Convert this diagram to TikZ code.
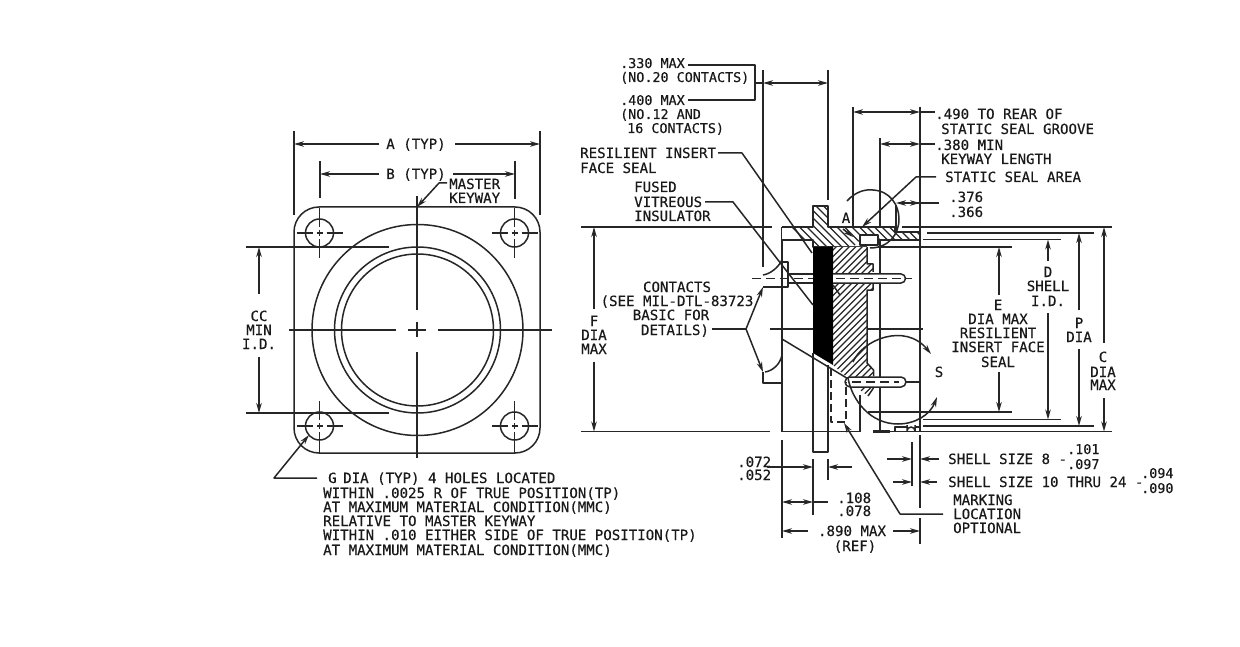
\documentclass[tikz,border=0pt]{standalone}
\usepackage{fontspec}
\setmainfont[FakeBold=0.35]{DejaVu Sans Mono}
\usetikzlibrary{arrows.meta}
\tikzset{
 ln/.style={line width=1.5pt,draw=black!85},
 thin ln/.style={line width=1.3pt,draw=black!85},
 arr/.style={ln,-{Stealth[length=10pt,width=5.5pt]}},
 cdash/.style={thin ln,dash pattern=on 9pt off 5pt},
 lbl/.style={font=\fontsize{14.1}{14}\selectfont,text=black!90,inner sep=0pt,text height=10pt,text depth=0pt,anchor=west},
 lblsm/.style={lbl,font=\fontsize{13.4}{14}\selectfont},
 lblc/.style={lbl,anchor=center},
 hat/.style={line width=1.2pt,draw=black!85}
}
\begin{document}
\begin{tikzpicture}[x=1pt,y=-1pt,line join=round]
\useasboundingbox (0,0) rectangle (1240,647);
\fill[white] (0,0) rectangle (1240,647);
% ---------- left view
\draw[ln,rounded corners=25pt] (294,207) rectangle (540,453);
\foreach \cx/\cy in {319.5/233,514.5/233,319.5/426,514.5/426}{
  \draw[ln] (\cx,\cy) circle[radius=14];
  \draw[thin ln] (\cx-23,\cy)--(\cx-7,\cy) (\cx-3,\cy)--(\cx+3,\cy) (\cx+7,\cy)--(\cx+23,\cy);
}
\draw[ln] (417.5,330) circle[radius=105.5] (417.5,330) circle[radius=83] (417.5,330) circle[radius=76];
\draw[thin ln] (319.5,208)--(319.5,227) (319.5,230)--(319.5,236) (319.5,239)--(319.5,258);
\draw[thin ln] (514.5,208)--(514.5,227) (514.5,230)--(514.5,236) (514.5,239)--(514.5,258);
\draw[thin ln] (319.5,401)--(319.5,420) (319.5,423)--(319.5,429) (319.5,432)--(319.5,453);
\draw[thin ln] (514.5,401)--(514.5,420) (514.5,423)--(514.5,429) (514.5,432)--(514.5,453);
\draw[ln] (417,196)--(417,310) (417,322)--(417,337) (417,352)--(417,458);
\draw[ln] (289,330)--(396,330) (408,330)--(426,330) (438,330)--(552,330);
% dims left view
\draw[ln] (294,131)--(294,215) (540,131)--(540,215) (320,161)--(320,198) (515,161)--(515,199);
\draw[arr] (379,144)--(294,144);
\draw[arr] (455,144)--(540,144);
\draw[arr] (379,174)--(320,174);
\draw[arr] (453,174)--(515,174);
\node[lblc] (tA) at (416,144) {A (TYP)};
\node[lblc] (tB) at (416,174) {B (TYP)};
\node[lbl] (tMK1) at (449,184) {MASTER};
\node[lbl] (tMK2) at (449,198) {KEYWAY};
\draw[arr] (447,183)--(439,183)--(417,207);
\draw[ln] (246,247)--(389,247) (246,413)--(389,413);
\draw[arr] (259,294)--(259,247);
\draw[arr] (259,357)--(259,413);
\node[lblc] (tCC) at (259,316) {CC};
\node[lblc] (tMIN) at (259,330) {MIN};
\node[lblc] (tID) at (259,344) {I.D.};
\draw[arr] (317,478)--(274,478)--(309,435);
\node[lbl] (g1) at (328,478) {G\hspace{-2pt} DIA (TYP) 4 HOLES LOCATED};
\node[lbl] (g2) at (323,493) {WITHIN .0025 R OF TRUE POSITION(TP)};
\node[lbl] (g3) at (323,507) {AT MAXIMUM MATERIAL CONDITION(MMC)};
\node[lbl] (g4) at (323,521) {RELATIVE TO MASTER KEYWAY};
\node[lbl] (g5) at (323,535) {WITHIN .010 EITHER SIDE OF TRUE POSITION(TP)};
\node[lbl] (g6) at (323,550) {AT MAXIMUM MATERIAL CONDITION(MMC)};
% ---------- right view : long lines
\draw[ln] (581,227)--(772,227) (581,431.5)--(770,431.5);
\draw[ln] (781,431.5)--(860,431.5) (873,431.5)--(1112,431.5);
\draw[ln] (902,227)--(1112,227) (927,233)--(1094,233) (923,239.5)--(1061,239.5) (878,247)--(1012,247);
\draw[ln] (868,412)--(1012,412) (923,419.5)--(1061,419.5) (923,426)--(1094,426);
\draw[ln] (763,70)--(763,267) (828,70)--(828,200);
\draw[ln] (853,107)--(853,240) (880,138)--(880,431.5) (920,107)--(920,431.5) (896,205)--(896,232);
\draw[ln] (782,227)--(782,431.5) (782,240)--(813,240) (860,395)--(860,431.5);
\draw[thin ln] (770,329)--(813,329) (867,329)--(923,329);
% hatched regions
\begin{scope}
\clip (782,227)--(813,227)--(813,206)--(828,206)--(828,227)--(895,227)--(895,232)--(920,232)--(920,240)--(878,240)--(878,235)--(860,235)--(860,240)--(853,247)--(813,247)--(813,240)--(782,240)--cycle;
\fill[white] (770,200) rectangle (930,250);
\foreach \k in {0,1,...,30}{ \draw[hat] (760+\k*7.5,195)--(820+\k*7.5,255); }
\end{scope}
\draw[ln] (782,227)--(813,227)--(813,206)--(828,206)--(828,227)--(895,227)--(895,232)--(920,232)--(920,240)--(878,240);
\draw[ln] (782,240)--(813,240)--(813,247)--(867,247);
\draw[ln] (860,235)--(878,235)--(878,245)--(860,245)--cycle;
\begin{scope}
\clip (833,247)--(867,247)--(867,264)--(873,264)--(873,290)--(867,290)--(867,363)--(873.5,370)--(873.5,388)--(868,396)--(860,390)--(850,380)--(833,365)--cycle;
\fill[white] (830,245) rectangle (880,400);
\foreach \c in {1070,1076.5,...,1270}{ \draw[hat] (\c-400,400)--(\c-240,240); }
\end{scope}
\draw[ln] (867,247)--(867,264)--(873,264)--(873,272) (873,284)--(873,290)--(867,290)--(867,363)--(873.5,370)--(873.5,376) (873.5,388)--(868,396);
\fill[black] (813,247)--(833,247)--(833,365)--(813,353)--cycle;
\draw[ln] (782,339)--(850,380);
\draw[ln] (813,353)--(813,452)--(828,452)--(828,365);
% contacts
\draw[ln] (788,274)--(813,274) (788,283)--(813,283);
\draw[ln,fill=white] (833,274)--(901,274) arc[start angle=-90,end angle=90,radius=4.5] --(833,283);
\draw[white,line width=4pt] (836,278.5)--(899,278.5);
\draw[cdash] (752,278.5)--(813,278.5);
\draw[cdash] (836,278.5)--(912,278.5);
\draw[ln] (763,287)--(788,287)--(788,262)--(782,262);
\draw[ln,fill=white] (850,377)--(901,377) arc[start angle=-90,end angle=90,radius=5] --(850,387) arc[start angle=90,end angle=270,radius=5];
\draw[cdash] (852,382)--(899,382);
\draw[ln] (906,382)--(920,382);
\draw[ln] (763,372)--(763,383)--(782,383);
\draw[ln] (763,275) .. controls (770,274) and (778,268) .. (782,260);
\draw[ln] (765,372) .. controls (772,371) and (780,365) .. (782,355);
\draw[arr] (746,329)--(763,287);
\draw[arr] (746,329)--(763,372);
\draw[ln] (712,329)--(746,329);
% detail A and S
\draw[ln] (847,201) .. controls (855,192) and (865,189) .. (873,190) .. controls (890,191) and (899,205) .. (899,219) .. controls (899,235) and (888,248) .. (870,248);
\draw[arr] (843,229)--(853,237);
\node[lblc] (tAA) at (846,218) {A};
\draw[arr] (936,177)--(916,177)--(862,227);
\draw[arr] (853,362) .. controls (862,340) and (905,322) .. (931,354);
\draw[arr] (848,378) .. controls (852,400) and (870,424) .. (898,424) .. controls (915,424) and (930,415) .. (937,397);
\node[lblc] (tS) at (939,372) {S};
% marking location
\draw[thin ln,dash pattern=on 8pt off 4pt] (831,368)--(831,422)--(846,422)--(846,382);
\draw[arr] (943,514)--(900,514)--(844,423);
% seal detail at bottom
\draw[line width=2.2pt,black!85] (873,431.5)--(890,431.5);
\draw[ln] (895,431.5)--(895,427)--(907,427) (915,427)--(920,427);
\draw[ln,fill=white] (907,425)--(907,431) arc[start angle=180,end angle=360,radius=4]--(915,425);
% top dims right view
\node[lblsm] (t330) at (620,63) {.330 MAX};
\node[lblsm] (t20) at (620,77) {(NO.20 CONTACTS)};
\node[lblsm] (t400) at (620,100) {.400 MAX};
\node[lblsm] (t12) at (620,114) {(NO.12 AND};
\node[lblsm] (t16) at (627,128) {16 CONTACTS)};
\draw[ln] (688,65)--(755,65)--(755,100)--(688,100);
\draw[arr] (800,83)--(763,83);
\draw[arr] (790,83)--(828,83);
\draw[ln] (755,83)--(763,83);
\node[lbl] (trs1) at (580,153) {RESILIENT INSERT};
\node[lbl] (trs2) at (580,168) {FACE SEAL};
\draw[ln] (718,153)--(742,153)--(812,253);
\draw[ln] (833,285)--(840,295);
\node[lbl] (tf1) at (634,187) {FUSED};
\node[lbl] (tf2) at (634,202) {VITREOUS};
\node[lbl] (tf3) at (634,216) {INSULATOR};
\draw[ln] (705,202)--(733,202)--(813,305);
\draw[arr] (594,309)--(594,227);
\draw[arr] (594,362)--(594,431.5);
\node[lblc] (tF) at (594,321) {F};
\node[lblc] (tFD) at (594,335) {DIA};
\node[lblc] (tFM) at (594,349) {MAX};
\node[lblc] (tc1) at (677,287) {CONTACTS};
\node[lblc] (tc2) at (677,301) {(SEE MIL-DTL-83723};
\node[lblc] (tc3) at (671,315) {BASIC FOR};
\node[lblc] (tc4) at (675,330) {DETAILS)};
% right top dims
\draw[arr] (890,112)--(853,112);
\draw[arr] (885,112)--(920,112);
\draw[ln] (920,112)--(935,112);
\draw[arr] (900,144)--(880,144);
\draw[arr] (900,144)--(920,144);
\draw[ln] (920,144)--(935,144);
\node[lbl] (r1) at (935,114) {.490 TO REAR OF};
\node[lbl] (r2) at (941,129) {STATIC SEAL GROOVE};
\node[lbl] (r3) at (935,145) {.380 MIN};
\node[lbl] (r4) at (941,159) {KEYWAY LENGTH};
\node[lbl] (r5) at (945,177) {STATIC SEAL AREA};
\node[lbl] (r6) at (949,197) {.376};
\node[lbl] (r7) at (949,212) {.366};
\draw[arr] (939,203)--(896,203);
\draw[arr] (908,203)--(920,203);
% right diameter dims
\draw[arr] (999,295)--(999,247);
\draw[arr] (999,372)--(999,412);
\node[lblc] (e1) at (998,305) {E};
\node[lblc] (e2) at (998,319) {DIA MAX};
\node[lblc] (e3) at (998,333) {RESILIENT};
\node[lblc] (e4) at (998,347) {INSERT FACE};
\node[lblc] (e5) at (998,362) {SEAL};
\draw[arr] (1048,261)--(1048,239.5);
\draw[arr] (1048,313)--(1048,419.5);
\node[lblc] (d1) at (1048,272) {D};
\node[lblc] (d2) at (1048,286) {SHELL};
\node[lblc] (d3) at (1048,301) {I.D.};
\draw[arr] (1079,310)--(1079,233);
\draw[arr] (1079,349)--(1079,426);
\node[lblc] (p1) at (1079,323) {P};
\node[lblc] (p2) at (1079,337) {DIA};
\draw[arr] (1104,343)--(1104,227);
\draw[arr] (1104,398)--(1104,431.5);
\node[lblc] (c1) at (1103,357) {C};
\node[lblc] (c2) at (1103,372) {DIA};
\node[lblc] (c3) at (1103,385) {MAX};
% bottom dims
\draw[ln] (912,442)--(912,486) (920,435)--(920,508) (920,518)--(920,544);
\draw[ln] (813,459)--(813,515) (828,459)--(828,480) (782,440)--(782,538);
\draw[arr] (887,459)--(912,459);
\draw[arr] (939,459)--(920,459);
\draw[arr] (893,482)--(912,482);
\draw[arr] (937,482)--(920,482);
\node[lbl] (s1) at (948,459) {SHELL SIZE 8 -};
\node[lblsm] (s2) at (1067,449) {.101};
\node[lblsm] (s3) at (1067,464) {.097};
\node[lbl] (s4) at (948,482) {SHELL SIZE 10 THRU 24 -};
\node[lblsm] (s5) at (1141,473) {.094};
\node[lblsm] (s6) at (1141,488) {.090};
\node[lbl] (m1) at (953,500) {MARKING};
\node[lbl] (m2) at (953,514) {LOCATION};
\node[lbl] (m3) at (953,528) {OPTIONAL};
\node[lbl] (b1) at (737,462) {.072};
\node[lbl] (b2) at (737,475) {.052};
\draw[arr] (767,467)--(813,467);
\draw[arr] (852,467)--(828,467);
\draw[arr] (800,502)--(782,502);
\draw[arr] (795,502)--(813,502);
\draw[ln] (813,502)--(828,502);
\node[lbl] (b3) at (837,498) {.108};
\node[lbl] (b4) at (837,511) {.078};
\draw[arr] (808,531)--(782,531);
\draw[arr] (893,531)--(920,531);
\node[lblc] (b5) at (852,531) {.890 MAX};
\node[lblc] (b6) at (855,546) {(REF)};
\end{tikzpicture}
\end{document}
